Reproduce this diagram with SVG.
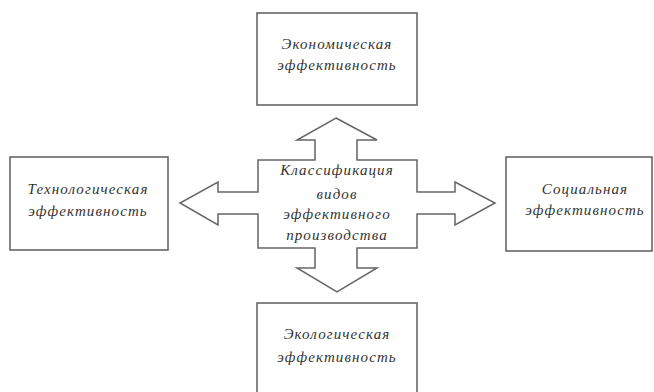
<svg xmlns="http://www.w3.org/2000/svg" width="654" height="392" viewBox="0 0 654 392">
<style>
.box{fill:#fff;stroke:#666;stroke-width:1.6}
.arrow{fill:#fff;stroke:#666;stroke-width:1.5;stroke-linejoin:miter}
.t{font-family:"Liberation Serif","DejaVu Serif",serif;font-style:italic;font-size:15px;fill:#333;text-anchor:middle;letter-spacing:1.1px}
</style>
<rect width="654" height="392" fill="#fff"/>
<g id="connectors">
<polygon class="arrow" points="336,118 377,140 357,140 357,160 417,160 417,192 455,192 455,182 495,203 455,225 455,214 417,214 417,248 357,248 357,268 377,268 337,292 297,268 315,268 315,248 258,248 258,214 218,214 218,225 180,203 218,182 218,192 258,192 258,160 315,160 315,140 297,140"/>
</g>
<g id="center">
<text class="t" x="337" y="175">Классификация</text>
<text class="t" x="337" y="199">видов</text>
<text class="t" x="337" y="219">эффективного</text>
<text class="t" x="337" y="240">производства</text>
</g>
<g id="economic">
<rect class="box" x="257" y="13" width="160" height="92"/>
<text class="t" x="337" y="49">Экономическая</text>
<text class="t" x="337" y="70">эффективность</text>
</g>
<g id="technological">
<rect class="box" x="10" y="157" width="158" height="93"/>
<text class="t" x="88" y="194">Технологическая</text>
<text class="t" x="88" y="216">эффективность</text>
</g>
<g id="social">
<rect class="box" x="506" y="157" width="146" height="94"/>
<text class="t" x="585" y="194">Социальная</text>
<text class="t" x="585" y="215">эффективность</text>
</g>
<g id="ecological">
<rect class="box" x="257" y="303" width="160" height="95"/>
<text class="t" x="337" y="339">Экологическая</text>
<text class="t" x="337" y="362">эффективность</text>
</g>
</svg>
